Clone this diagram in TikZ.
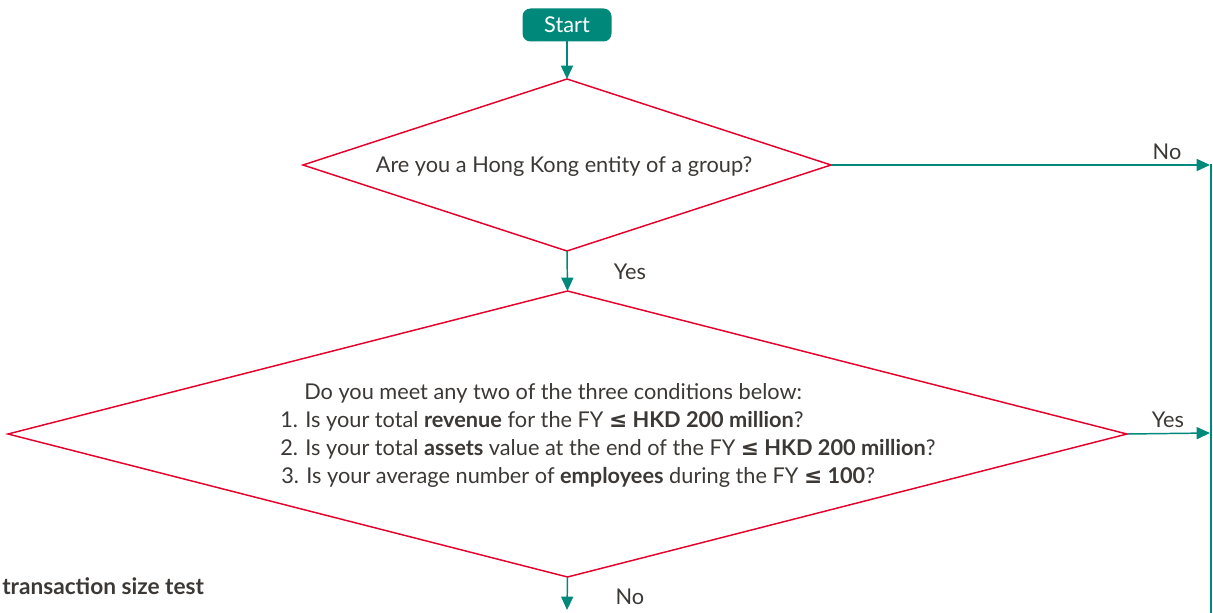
\documentclass[tikz,border=0pt]{standalone}
\usepackage{fontspec}
\setmainfont{Lato}
\newfontfamily\symf{DejaVu Sans}
\usetikzlibrary{shapes.geometric,arrows.meta}
\definecolor{teal1}{HTML}{00897B}
\definecolor{red1}{HTML}{E4002B}
\definecolor{txt}{HTML}{3B3836}
\newcommand{\myle}{{\symf ≤}}
\tikzset{
  px/.style={x=0.75pt,y=-0.75pt},
  decision/.style={diamond,draw=red1,line width=1.1pt,inner sep=0pt,outer sep=0pt},
  startbox/.style={rectangle,rounded corners=6pt,fill=teal1,text=white,inner sep=0pt,outer sep=0pt,minimum width=66.75pt,minimum height=24.75pt,font=\fontsize{16.3}{19}\selectfont},
  flow/.style={draw=teal1,line width=1.1pt,-{Triangle[length=10pt,width=9pt]}},
  rail/.style={draw=teal1,line width=1.1pt},
  lbl/.style={text=txt,inner sep=0pt,font=\fontsize{16.3}{19}\selectfont},
  body/.style={text=txt,inner sep=0pt,anchor=base west,font=\fontsize{16.3}{19}\selectfont},
}
\begin{document}
\begin{tikzpicture}[px]
\useasboundingbox (0,0) rectangle (1213,613);
\node[startbox] (start) at (567,25) {Start};
\node[decision,minimum width=396pt,minimum height=129pt] (d1) at (567,165) {};
\node[decision,minimum width=839.25pt,minimum height=214.5pt] (d2) at (567.5,434) {};
\node[lbl,anchor=base] (q1) at (564,173) {Are you a Hong Kong entity of a group?};
\node[body] (l1) at (304,399) {Do you meet any two of the three conditions below:};
\node[body] (l2) at (280,427) {1. Is your total \textbf{revenue} for the FY \textbf{\myle\ HKD 200 million}?};
\node[body] (l3) at (280,455) {2. Is your total \textbf{assets} value at the end of the FY \textbf{\myle\ HKD 200 million}?};
\node[body] (l4) at (281,483) {3. Is your average number of \textbf{employees} during the FY \textbf{\myle\ 100}?};
\coordinate (r1) at (1210,165);
\coordinate (r2) at (1210,433);
\coordinate (rtop) at (1211,164);
\coordinate (rbot) at (1211,613);
\coordinate (down) at (567,610);
\draw[flow] (start.south) -- (d1.north);
\draw[flow] (d1.south) -- (d2.north);
\draw[flow] (d1.east) -- (r1);
\draw[flow] (d2.east) -- (r2);
\draw[flow] (d2.south) -- (down);
\draw[rail] (rtop) -- (rbot);
\node[lbl] (no1) at (1167,152) {No};
\node[lbl] (yes1) at (630,272) {Yes};
\node[lbl] (yes2) at (1168,420) {Yes};
\node[lbl] (no2) at (630,597) {No};
\node[body,font=\bfseries\fontsize{17}{20}\selectfont] (tst) at (2,594) {transaction size test};
\end{tikzpicture}
\end{document}
